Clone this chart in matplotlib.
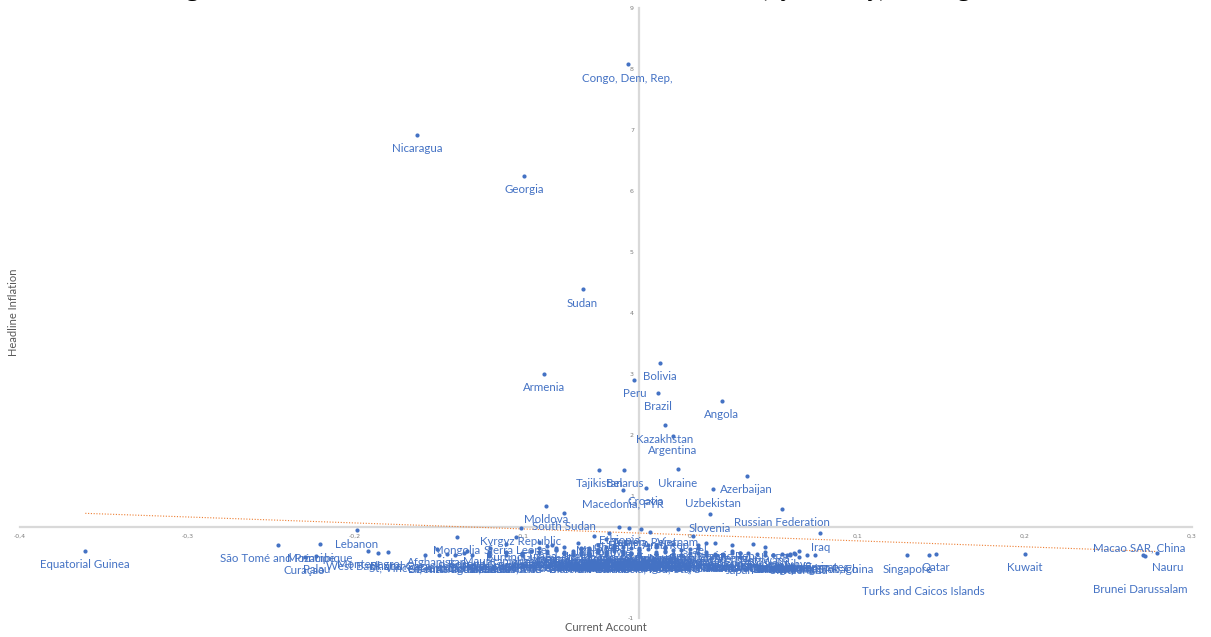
import numpy as np
import matplotlib
matplotlib.use("Agg")
import matplotlib.pyplot as plt
from matplotlib.ticker import FuncFormatter

# country, current account (share of GDP), headline inflation
countries = [
    "Congo, Dem, Rep,", "Nicaragua", "Georgia", "Sudan", "Armenia", "Bolivia", "Peru", "Brazil",
    "Angola", "Kazakhstan", "Argentina", "Tajikistan", "Belarus", "Ukraine", "Azerbaijan", "Croatia",
    "Macedonia, FYR", "Uzbekistan", "Russian Federation", "Slovenia", "Moldova", "South Sudan",
    "Kyrgyz Republic", "Lebanon", "Equatorial Guinea", "São Tomé and Príncipe", "Mozambique",
    "Curaçao", "Palau", "Montenegro", "West Bank and Gaza", "Bhutan", "Afghanistan", "Mongolia",
    "Sierra Leone", "Ethiopia", "Tunisia", "Vietnam", "Israel", "Iraq", "Hong Kong SAR, China",
    "Trinidad and Tobago", "Singapore", "Turks and Caicos Islands", "Qatar", "Kuwait",
    "Macao SAR, China", "Brunei Darussalam", "Nauru",
    "Albania", "Algeria", "Antigua and Barbuda", "Aruba", "Australia", "Austria", "Bahamas, The",
    "Bahrain", "Bangladesh", "Barbados", "Belgium", "Belize", "Benin", "Bosnia and Herzegovina",
    "Botswana", "Bulgaria", "Burkina Faso", "Burundi", "Cabo Verde", "Cambodia", "Cameroon",
    "Canada", "Central African Republic", "Chad", "Chile", "China", "Colombia", "Comoros",
    "Congo, Rep,", "Costa Rica", "Cote d'Ivoire", "Cyprus", "Czech Republic", "Denmark", "Djibouti",
    "Dominica", "Dominican Republic", "Ecuador", "El Salvador", "Eritrea", "Estonia", "Eswatini",
    "Fiji", "Finland", "France", "Gabon", "Gambia, The", "Germany", "Ghana", "Greece", "Grenada",
    "Guatemala", "Guinea", "Guinea-Bissau", "Guyana", "Haiti", "Honduras", "Hungary", "Iceland",
    "India", "Indonesia", "Iran, Islamic Rep,", "Ireland", "Italy", "Jamaica", "Japan", "Jordan",
    "Kenya", "Kiribati", "Korea, Rep,", "Kosovo", "Lao PDR", "Latvia", "Lesotho", "Liberia", "Libya",
    "Lithuania", "Luxembourg", "Madagascar", "Malawi", "Malaysia", "Maldives", "Mali", "Malta",
    "Marshall Islands", "Mauritania", "Mauritius", "Mexico", "Micronesia, Fed, Sts,", "Morocco",
    "Myanmar", "Namibia", "Nepal", "Netherlands", "New Zealand", "Niger", "Nigeria", "Norway",
    "Oman", "Pakistan", "Panama", "Papua New Guinea", "Paraguay", "Philippines", "Poland",
    "Portugal", "Romania", "Rwanda", "Samoa", "Saudi Arabia", "Senegal", "Serbia", "Seychelles",
    "Slovak Republic", "Solomon Islands", "South Africa", "Spain", "Sri Lanka", "St, Kitts and Nevis",
    "St, Lucia", "St, Vincent and the Grenadines", "Suriname", "Sweden", "Switzerland", "Tanzania",
    "Thailand", "Timor-Leste", "Togo", "Tonga", "Turkey", "Tuvalu", "Uganda", "United Arab Emirates",
    "United Kingdom", "United States", "Uruguay", "Vanuatu", "Venezuela, RB", "Yemen, Rep,",
    "Egypt, Arab Rep,", "Zambia", "Zimbabwe",
]

current_account = [
    -0.037, -0.163, -0.099, -0.064, -0.087, -0.018, -0.033, -0.019,
    0.019, -0.015, -0.010, -0.054, -0.039, -0.007, 0.034, -0.026,
    -0.040, 0.014, 0.055, 0.012, -0.086, -0.075,
    -0.101, -0.199, -0.361, -0.246, -0.221,
    -0.230, -0.223, -0.192, -0.186, -0.180, -0.151, -0.139,
    -0.104, -0.042, -0.036, -0.007, 0.002, 0.078, 0.075,
    0.070, 0.130, 0.143, 0.147, 0.200,
    0.272, 0.271, 0.279,
    -0.095, 0.025, -0.120, -0.060, -0.040, 0.020, -0.110,
    0.030, 0.005, -0.070, 0.005, -0.075, -0.065, -0.100,
    0.045, -0.030, -0.060, -0.110, -0.100, -0.085, -0.030,
    -0.010, -0.070, -0.080, -0.015, 0.035, -0.030, -0.050,
    -0.045, -0.045, 0.000, -0.060, -0.020, 0.050, -0.020,
    -0.130, -0.035, -0.005, -0.040, -0.020, -0.050, -0.015,
    -0.055, 0.015, -0.005, 0.055, -0.080, 0.050, -0.048, -0.070, -0.150,
    -0.040, -0.090, -0.040, -0.110, -0.067, -0.060, -0.025, -0.045,
    -0.015, 0.005, 0.015, 0.010, -0.005, -0.085, 0.030, -0.075,
    -0.050, 0.015, 0.030, -0.133, -0.090, -0.055, -0.065, -0.158, 0.065,
    -0.035, 0.060, -0.055, -0.057, 0.060, -0.120, -0.065, -0.010,
    -0.060, -0.119, -0.055, -0.015, -0.030, -0.020,
    -0.010, -0.010, 0.005, 0.045, -0.035, -0.100, 0.010, 0.062,
    0.040, -0.020, -0.060, 0.025, 0.000, 0.010, -0.030,
    -0.060, -0.045, -0.080, -0.065, 0.058, -0.070, -0.075, -0.135,
    -0.030, -0.090, -0.030, -0.035, -0.040, -0.140,
    -0.120, -0.145, -0.025, 0.050, 0.065, -0.065,
    0.025, 0.045, -0.075, -0.085, -0.045, 0.020, -0.060, 0.063,
    -0.030, -0.030, -0.015, -0.050, 0.038, -0.029,
    -0.024, -0.082, -0.050,
]

inflation = [
    8.08, 6.92, 6.25, 4.39, 3.00, 3.18, 2.90, 2.69,
    2.56, 2.16, 1.98, 1.43, 1.43, 1.44, 1.33, 1.13,
    1.10, 1.11, 0.79, 0.70, 0.84, 0.72,
    0.48, 0.44, 0.10, 0.20, 0.21,
    0.00, 0.02, 0.10, 0.07, 0.08, 0.13, 0.33,
    0.33, 0.49, 0.47, 0.46, 0.34, 0.39, 0.03,
    0.03, 0.03, 0.03, 0.05, 0.05,
    0.02, 0.03, 0.06,
    0.10, 0.20, 0.02, 0.05, 0.08, 0.05, 0.04,
    0.07, 0.20, 0.06, 0.06, 0.07, 0.08, 0.06,
    0.17, 0.12, 0.05, 0.22, 0.04, 0.10, 0.06,
    0.05, 0.10, 0.12, 0.09, 0.06, 0.14, 0.06,
    0.10, 0.18, 0.06, 0.06, 0.05, 0.04, 0.09,
    0.04, 0.15, 0.12, 0.07, 0.17, 0.09, 0.15,
    0.09, 0.04, 0.04, 0.05, 0.12, 0.03, 0.39, 0.04, 0.04,
    0.10, 0.24, 0.05, 0.09, 0.23, 0.13, 0.13, 0.15,
    0.17, 0.15, 0.23, 0.04, 0.04, 0.18, 0.00, 0.09,
    0.17, 0.05, 0.06, 0.10, 0.15, 0.11, 0.13, 0.03, 0.10,
    0.07, 0.04, 0.20, 0.34, 0.05, 0.08, 0.06, 0.05,
    0.02, 0.15, 0.10, 0.10, 0.04, 0.05,
    0.21, 0.11, 0.14, 0.04, 0.05, 0.05, 0.23, 0.06,
    0.05, 0.19, 0.04, 0.10, 0.13, 0.08, 0.06,
    0.05, 0.15, 0.14, 0.05, 0.04, 0.05, 0.16, 0.07,
    0.06, 0.08, 0.12, 0.06, 0.17, 0.03,
    0.03, 0.05, 0.20, 0.03, 0.00, 0.15,
    0.06, 0.08, 0.05, 0.06, 0.20, 0.04, 0.15, 0.05,
    0.04, 0.04, 0.17, 0.04, 0.21, 0.46,
    0.41, 0.20, 0.30,
]

# labels nudged away from the default spot below the marker (offset in points)
label_offsets = {
    "Macao SAR, China": (-4, 6),
    "Brunei Darussalam": (-2, -25),
    "Turks and Caicos Islands": (-4, -26),
    "Nauru": (8, -10),
}

blue = "#4472C4"
grey_axis = "#d9d9d9"

fig = plt.figure(figsize=(12.11, 6.37), dpi=100)
ax = fig.add_axes([20 / 1211, 19 / 637, 1172 / 1211, 610 / 637])

ax.set_xlim(-0.4, 0.3)
ax.set_ylim(-1, 9)

# axes cross inside the plot area
ax.spines["left"].set_position(("data", -0.03))
ax.spines["bottom"].set_position(("data", 0.49))
for side in ["top", "right"]:
    ax.spines[side].set_visible(False)
for side in ["left", "bottom"]:
    ax.spines[side].set_color(grey_axis)
    ax.spines[side].set_linewidth(1.6)
    ax.spines[side].set_zorder(0)

ax.set_xticks(np.arange(-0.4, 0.31, 0.1))
ax.set_yticks(np.arange(-1, 10, 1))
ax.xaxis.set_major_formatter(FuncFormatter(lambda v, p: "0" if abs(v) < 1e-9 else f"{v:.1f}".replace(".", ",")))
ax.yaxis.set_major_formatter(FuncFormatter(lambda v, p: f"{v:.0f}"))
ax.tick_params(axis="both", length=0, labelsize=4.5, labelcolor="#7f7f7f")
ax.tick_params(axis="x", pad=5)
ax.tick_params(axis="y", pad=4)

ax.scatter(current_account, inflation, s=9, color=blue, linewidths=0, zorder=3)

# linear trend
slope, intercept = np.polyfit(current_account, inflation, 1)
xs = np.array([min(current_account), max(current_account)])
ax.plot(xs, slope * xs + intercept, color="#ED7D31", linestyle=(0, (1, 1.5)), linewidth=0.8, zorder=2)

for name, x, y in zip(countries, current_account, inflation):
    dx, dy = label_offsets.get(name, (0, -10))
    ax.annotate(name, (x, y), xytext=(dx, dy), textcoords="offset points",
                ha="center", va="center", fontsize=8.3, color=blue,
                family=["Lato", "DejaVu Sans"], zorder=4)

ax.set_xlabel("Current Account", fontsize=8, color="#595959", family="Lato")
ax.xaxis.set_label_coords(586 / 1172, -4 / 610)
ax.set_ylabel("Headline Inflation", fontsize=8, color="#595959", family="Lato")
ax.yaxis.set_label_coords(-1 / 1172, (618 - 312) / 610)

# title sits above the top edge, only its descenders fall inside the canvas
fig.text(0.519, 1 + 4 / 637,
         "Figure 3: Current Account Balance vs Headline Inflation (by country), average 2010-2019",
         ha="center", va="baseline", fontsize=17.5, fontweight="bold", family="Liberation Serif")

fig.savefig("out.png", dpi=100)
